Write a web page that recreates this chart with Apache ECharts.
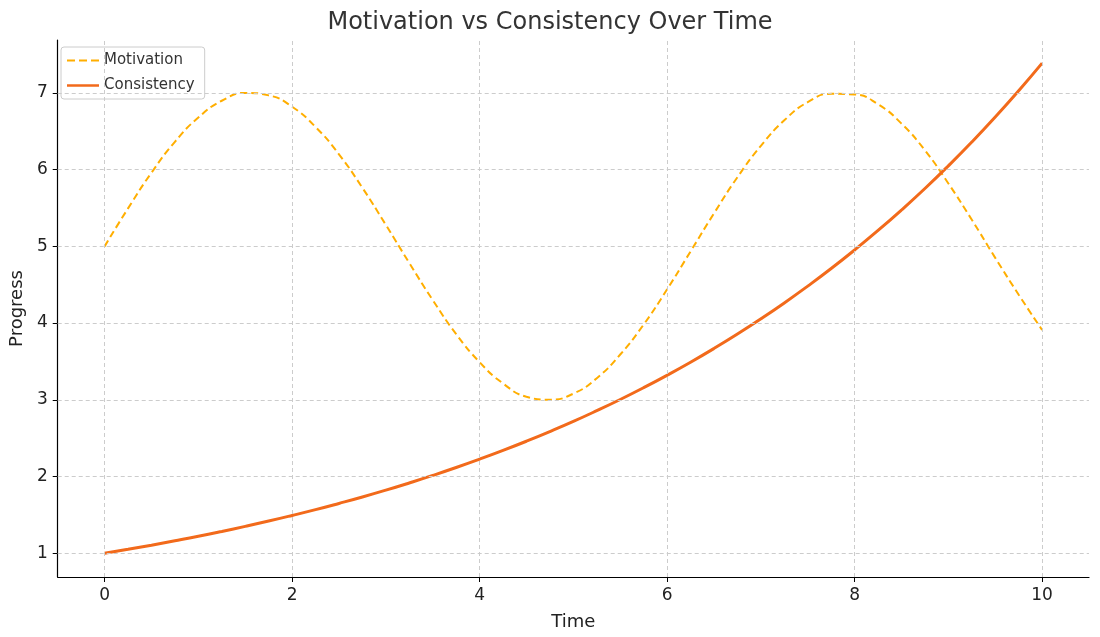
<!DOCTYPE html>
<html><head><meta charset="utf-8">
<script src="https://cdn.jsdelivr.net/npm/echarts@6/dist/echarts.min.js"></script>
<style>html,body{margin:0;padding:0;background:#fff}#c{width:1100px;height:637px}</style>
</head><body><div id="c"></div>
<script>
const timeValues = [0,0.25,0.5,0.75,1,1.25,1.5,1.75,2,2.25,2.5,2.75,3,3.25,3.5,3.75,4,4.25,4.5,4.75,5,5.25,5.5,5.75,6,6.25,6.5,6.75,7,7.25,7.5,7.75,8,8.25,8.5,8.75,9,9.25,9.5,9.75,10];
const motivation = [5,5.495,5.96,6.363,6.68,6.898,7.0,6.968,6.82,6.556,6.20,5.763,5.28,4.783,4.30,3.857,3.49,3.213,3.04,3.001,3.08,3.282,3.59,3.981,4.44,4.934,5.43,5.901,6.31,6.643,6.88,6.989,6.98,6.852,6.60,6.252,5.82,5.347,4.85,4.37,3.91];
const consistency = [1,1.051,1.105,1.162,1.221,1.284,1.35,1.419,1.492,1.568,1.649,1.733,1.822,1.916,2.014,2.117,2.226,2.340,2.46,2.586,2.718,2.858,3.004,3.158,3.32,3.490,3.669,3.857,4.055,4.263,4.482,4.711,4.953,5.207,5.474,5.754,6.05,6.360,6.686,7.029,7.389];
const xTicks = [0,2,4,6,8,10];
const yTicks = [1,2,3,4,5,6,7];
const font = 'DejaVu Sans';
const gridStyle = {color:'#cccccc', type:[4,3], width:1};
const chart = echarts.init(document.getElementById('c'), null, {renderer:'canvas'});
chart.setOption({
  animation:false,
  textStyle:{fontFamily:font},
  title:{text:'Motivation vs Consistency Over Time', left:'center', top:6,
    textStyle:{fontFamily:font, fontSize:24, fontWeight:'normal', color:'#333'}},
  legend:{left:61, top:47, orient:'vertical', itemWidth:32, itemHeight:10, itemGap:10,
    padding:[6,10,6,6], borderColor:'#ccc', borderWidth:1, borderRadius:3, backgroundColor:'#fff',
    textStyle:{fontFamily:font, fontSize:15, color:'#333'},
    data:[{name:'Motivation', icon:'path://M0,4h8v2h-8zM12,4h8v2h-8zM24,4h8v2h-8z'},{name:'Consistency', icon:'path://M0,4h32v2.5h-32z'}]},
  grid:{left:53, right:11, top:40, bottom:60},
  xAxis:{type:'value', min:-0.5, max:10.5, name:'Time', nameLocation:'middle', nameGap:36,
    nameTextStyle:{fontFamily:font, fontSize:18, color:'#222'},
    axisLine:{onZero:false, lineStyle:{color:'#000', width:1.2}},
    axisTick:{customValues:xTicks, length:5, lineStyle:{color:'#000'}},
    axisLabel:{customValues:xTicks, fontSize:17, color:'#222', margin:10},
    splitLine:{show:false}},
  yAxis:{type:'value', min:0.69, max:7.69, name:'Progress', nameLocation:'middle', nameGap:30,
    nameTextStyle:{fontFamily:font, fontSize:18, color:'#222'},
    axisLine:{show:true, onZero:false, lineStyle:{color:'#000', width:1.2}},
    axisTick:{show:true, customValues:yTicks, length:5, lineStyle:{color:'#000'}},
    axisLabel:{customValues:yTicks, fontSize:17, color:'#222', margin:10},
    splitLine:{show:false}},
  series:[
    {name:'Motivation', type:'line', smooth:true, symbol:'none', z:3,
     data:timeValues.map((t,i)=>[t,motivation[i]]),
     lineStyle:{color:'#ffae00', width:2, type:[7,4]}, itemStyle:{color:'#ffae00'},
     markLine:{silent:true, symbol:'none', label:{show:false}, lineStyle:gridStyle, animation:false,
       data:[...xTicks.map(v=>({xAxis:v})), ...yTicks.map(v=>({yAxis:v}))]}},
    {name:'Consistency', type:'line', smooth:true, symbol:'none', z:4,
     data:timeValues.map((t,i)=>[t,consistency[i]]),
     lineStyle:{color:'#f26a1b', width:3}, itemStyle:{color:'#f26a1b'}}
  ]
});
</script></body></html>
